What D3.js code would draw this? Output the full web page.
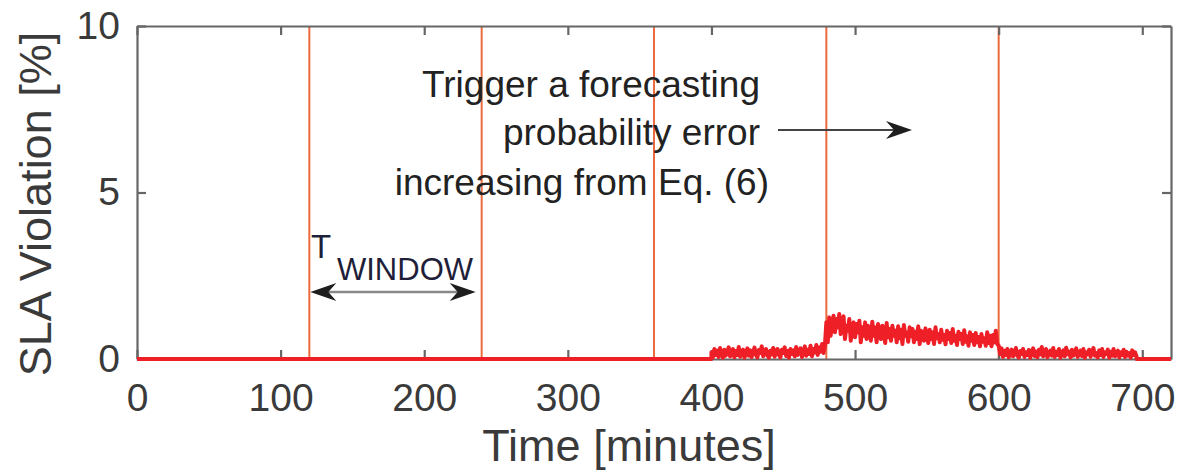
<!DOCTYPE html>
<html>
<head>
<meta charset="utf-8">
<script src="https://cdn.jsdelivr.net/npm/d3@7"></script>
<style>
  html, body { margin: 0; padding: 0; background: #fff; }
  svg { display: block; }
  text { font-family: "Liberation Sans", Arial, sans-serif; }
</style>
</head>
<body>
<svg id="chart" width="1177" height="472"></svg>
<script>
// ---------------- data ----------------
const xTicks = [0, 100, 200, 300, 400, 500, 600, 700];
const yTicks = [0, 5, 10];
const windowLines = [120, 240, 360, 480, 600];
const noiseStart = 400;   // minutes
const noiseStep = 1;      // minutes between samples
// SLA violation [%], 400-479 min
const slaLow1 = [0.2,0.05,0.3,0.12,0.25,0.06,0.33,0.15,0.04,0.28,0.1,0.22,0.35,0.08,0.18,0.3,0.05,0.24,0.12,0.36,
  0.07,0.2,0.28,0.04,0.16,0.32,0.1,0.26,0.06,0.22,0.34,0.12,0.05,0.27,0.18,0.38,0.08,0.2,0.3,0.1,
  0.04,0.25,0.14,0.33,0.07,0.22,0.3,0.12,0.05,0.28,0.18,0.35,0.09,0.24,0.04,0.3,0.15,0.26,0.08,0.36,
  0.12,0.22,0.32,0.06,0.18,0.38,0.1,0.28,0.15,0.4,0.08,0.3,0.2,0.42,0.12,0.35,0.22,0.45,0.18,0.4];
// 480-599 min
const slaHigh = [1.1,0.5,1.25,0.7,1.05,1.3,0.8,1.2,0.95,1.35,0.75,1.15,1.28,0.6,1.0,0.85,1.2,0.55,0.9,1.1,
  0.65,1.05,0.8,1.15,0.5,0.95,0.7,1.1,0.6,1.0,0.85,0.55,1.12,0.7,0.95,0.5,1.05,0.8,0.6,1.0,
  0.75,0.48,1.08,0.65,0.9,0.55,1.0,0.7,0.85,0.5,0.98,0.62,0.88,0.45,1.02,0.7,0.8,0.52,0.95,0.68,
  0.9,0.5,0.82,0.6,0.98,0.45,0.85,0.72,0.55,0.92,0.65,0.48,0.88,0.6,0.8,0.45,0.95,0.62,0.75,0.5,
  0.88,0.58,0.72,0.44,0.85,0.6,0.78,0.48,0.9,0.55,0.7,0.42,0.82,0.6,0.75,0.45,0.86,0.52,0.68,0.4,
  0.8,0.55,0.72,0.42,0.78,0.5,0.66,0.38,0.75,0.52,0.62,0.4,0.8,0.48,0.7,0.38,0.72,0.5,0.85,0.45];
// 600-696 min
const slaLow2 = [0.4,0.15,0.32,0.06,0.25,0.12,0.3,0.05,0.2,0.28,0.08,0.18,0.33,0.1,0.04,0.24,0.15,0.3,0.06,0.2,
  0.12,0.27,0.04,0.18,0.32,0.09,0.22,0.05,0.28,0.14,0.36,0.08,0.2,0.3,0.05,0.16,0.25,0.1,0.33,0.06,
  0.22,0.12,0.3,0.04,0.18,0.26,0.08,0.34,0.14,0.22,0.05,0.28,0.1,0.2,0.32,0.06,0.16,0.25,0.09,0.3,
  0.04,0.2,0.14,0.28,0.07,0.22,0.33,0.1,0.18,0.05,0.26,0.12,0.3,0.06,0.2,0.15,0.28,0.04,0.22,0.1,
  0.3,0.08,0.18,0.25,0.05,0.2,0.12,0.28,0.06,0.22,0.1,0.18,0.04,0.26,0.12,0.2,0.08];
const xMax = 720;

// ---------------- build series ----------------
const series = [{t: 0, v: 0}, {t: noiseStart, v: 0}];
[...slaLow1, ...slaHigh, ...slaLow2].forEach((v, i) => series.push({t: noiseStart + i * noiseStep, v}));
const lastT = noiseStart + (slaLow1.length + slaHigh.length + slaLow2.length - 1) * noiseStep;
series.push({t: lastT, v: 0});
series.push({t: xMax, v: 0});

// ---------------- layout ----------------
const svg = d3.select("#chart");
const L = 137, R = 1171, T = 26, B = 359;
const x = d3.scaleLinear().domain([0, xMax]).range([L, R]);
const y = d3.scaleLinear().domain([0, 10]).range([B, T]);
const axisColor = "#666";
const textColor = "#3a3a3a";

// vertical window lines
svg.append("g").selectAll("line").data(windowLines).join("line")
  .attr("x1", d => x(d)).attr("x2", d => x(d))
  .attr("y1", y(10)).attr("y2", y(0))
  .attr("stroke", "#ec6a3e").attr("stroke-width", 2);

// axes (box with inward ticks)
function styleAxis(g) {
  g.selectAll("path.domain").attr("stroke", axisColor).attr("stroke-width", 2.2);
  g.selectAll(".tick line").attr("stroke", axisColor).attr("stroke-width", 2.2);
}
svg.append("g").attr("transform", `translate(0,${B})`)
  .call(d3.axisBottom(x).tickValues(xTicks).tickSizeInner(-9).tickSizeOuter(0).tickPadding(24))
  .call(styleAxis)
  .call(g => g.selectAll(".tick text").attr("font-size", 39).attr("fill", textColor)
      .attr("font-family", "Liberation Sans, Arial, sans-serif").attr("dy", "0.71em"));
svg.append("g").attr("transform", `translate(0,${T})`)
  .call(d3.axisTop(x).tickValues(xTicks).tickSizeInner(-9).tickSizeOuter(0).tickFormat(""))
  .call(styleAxis);
svg.append("g").attr("transform", `translate(${L},0)`)
  .call(d3.axisLeft(y).tickValues(yTicks).tickSizeInner(-9).tickSizeOuter(0).tickPadding(17))
  .call(styleAxis)
  .call(g => g.selectAll(".tick text").attr("font-size", 39).attr("fill", textColor)
      .attr("font-family", "Liberation Sans, Arial, sans-serif"));
svg.append("g").attr("transform", `translate(${R},0)`)
  .call(d3.axisRight(y).tickValues(yTicks).tickSizeInner(-9).tickSizeOuter(0).tickFormat(""))
  .call(styleAxis);

// data line
svg.append("path").datum(series)
  .attr("d", d3.line().x(d => x(d.t)).y(d => y(d.v)))
  .attr("fill", "none").attr("stroke", "#ee1f26").attr("stroke-width", 4)
  .attr("stroke-linejoin", "round");

// axis titles
svg.append("text").attr("x", 629).attr("y", 461).attr("text-anchor", "middle")
  .attr("font-size", 45).attr("fill", textColor).text("Time [minutes]");
svg.append("text").attr("transform", "translate(51,204) rotate(-90)").attr("text-anchor", "middle")
  .attr("font-size", 45).attr("fill", textColor).text("SLA Violation [%]");

// annotation text
const ann = svg.append("g").attr("font-size", 37).attr("fill", "#222");
ann.append("text").attr("x", 760).attr("y", 97).attr("text-anchor", "end").text("Trigger a forecasting");
ann.append("text").attr("x", 760).attr("y", 145).attr("text-anchor", "end").text("probability error");
ann.append("text").attr("x", 769).attr("y", 195).attr("text-anchor", "end").text("increasing from Eq. (6)");

// arrow helper (stealth head)
function head(xTip, yTip, dir) {
  const len = 26, half = 9, back = 8;
  const p = d3.path();
  p.moveTo(xTip, yTip);
  p.lineTo(xTip - dir * len, yTip - half);
  p.lineTo(xTip - dir * (len - back), yTip);
  p.lineTo(xTip - dir * len, yTip + half);
  p.closePath();
  svg.append("path").attr("d", p.toString()).attr("fill", "#1e1e1e");
}
// right arrow
svg.append("line").attr("x1", 778).attr("x2", 900).attr("y1", 130).attr("y2", 130)
  .attr("stroke", "#444").attr("stroke-width", 2.2);
head(912, 130, 1);

// T_WINDOW double arrow
svg.append("line").attr("x1", x(120) + 10).attr("x2", x(240) - 10).attr("y1", 292).attr("y2", 292)
  .attr("stroke", "#888").attr("stroke-width", 2.5);
head(x(120) + 1, 292, -1);
head(x(240) - 6, 292, 1);

const tw = svg.append("text").attr("x", 311).attr("y", 258).attr("font-size", 33).attr("fill", "#1f1f3a");
tw.append("tspan").text("T");
tw.append("tspan").attr("x", 337).attr("y", 280).attr("font-size", 31).text("WINDOW");
</script>
</body>
</html>
